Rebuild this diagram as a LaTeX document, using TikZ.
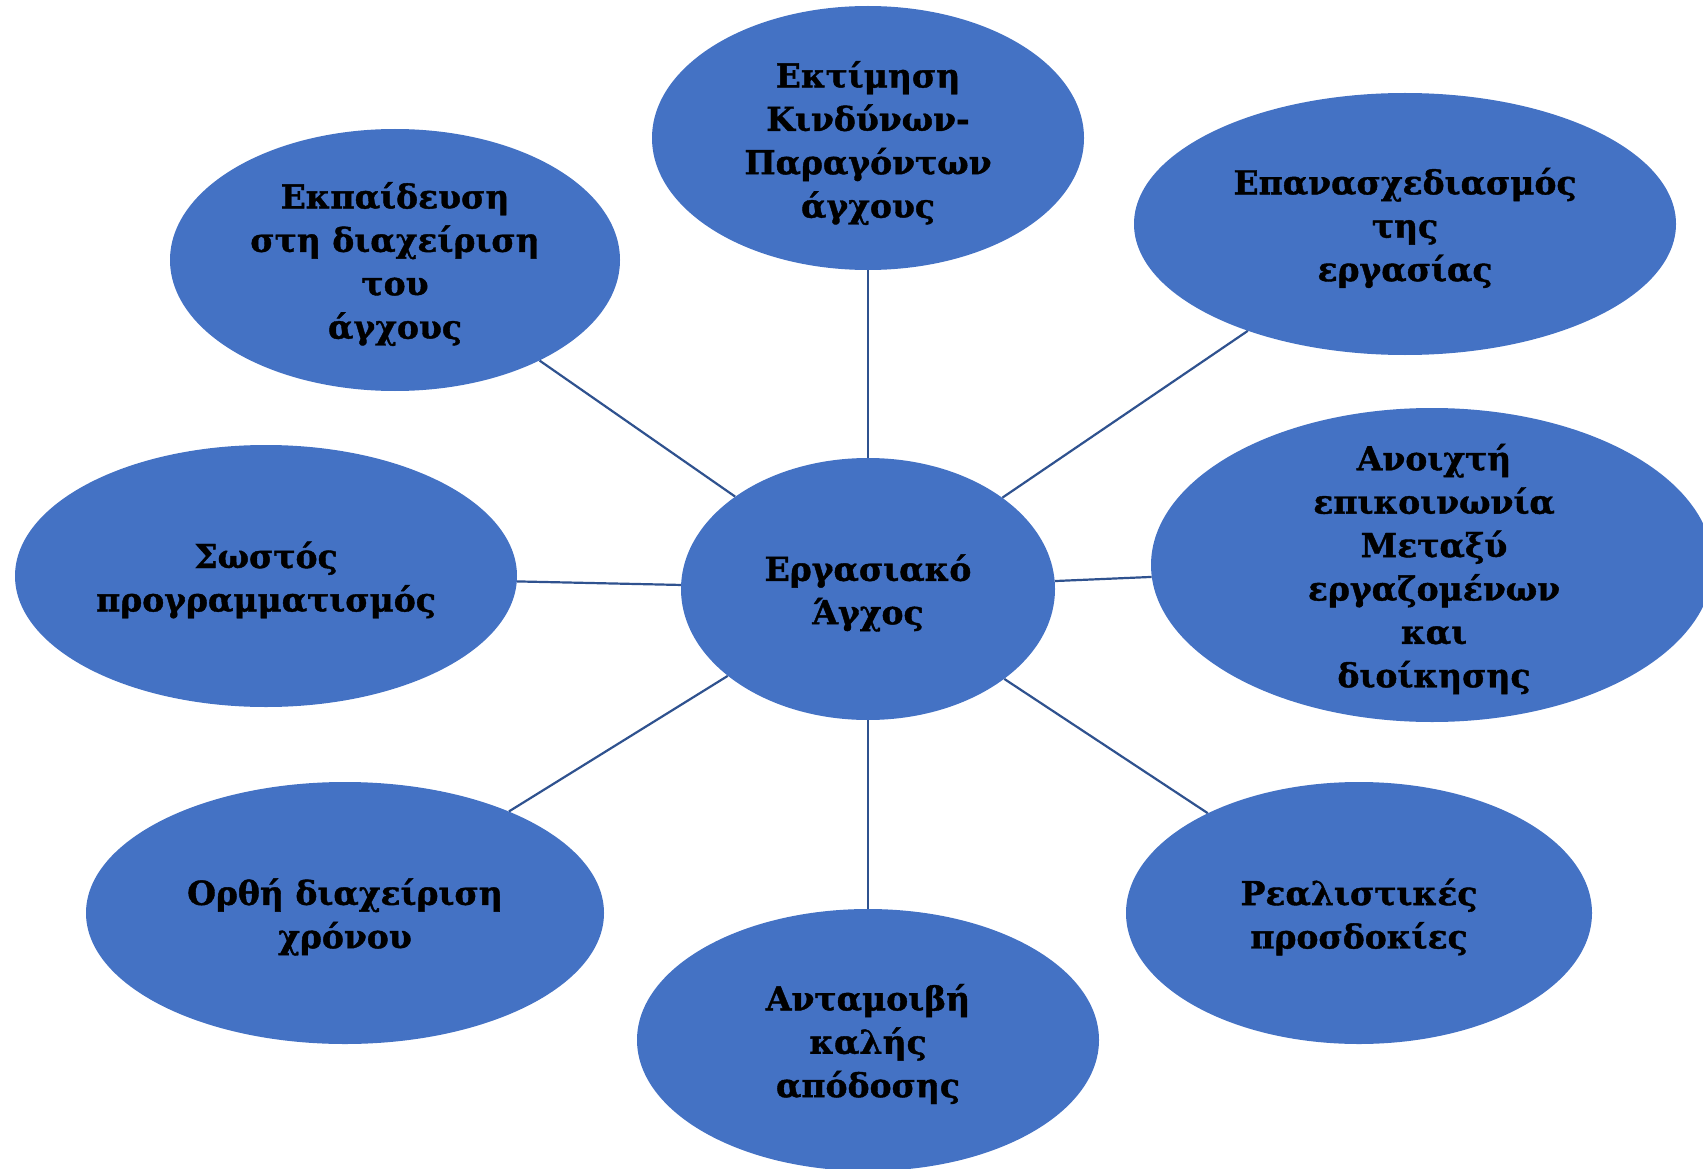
\documentclass[tikz,border=0pt]{standalone}
\usepackage{fontspec}
\setmainfont[BoldFeatures={FakeBold=1.2}]{DejaVu Serif}
\usetikzlibrary{shapes.geometric}
\definecolor{fillblue}{HTML}{4472C4}
\definecolor{lineblue}{HTML}{2F528F}
\tikzset{
  bubble/.style={ellipse, fill=fillblue, draw=none, inner sep=0pt},
  btext/.style={align=center, font=\fontsize{33}{43.4}\selectfont\bfseries, text=black, inner sep=0pt},
  link/.style={draw=lineblue, line width=2.2pt}
}
\begin{document}
\begin{tikzpicture}[x=1pt,y=-1pt]
\useasboundingbox (0,0) rectangle (1703,1169);
\clip (0,0) rectangle (1703,1169);
\node[bubble, minimum width=374pt, minimum height=262pt] (c) at (868,589) {};
\node[bubble, minimum width=432pt, minimum height=264pt] (t) at (868,138) {};
\node[bubble, minimum width=450pt, minimum height=262pt] (tl) at (395,260) {};
\node[bubble, minimum width=542pt, minimum height=262pt] (tr) at (1405,224) {};
\node[bubble, minimum width=562pt, minimum height=314pt] (r) at (1432,565) {};
\node[bubble, minimum width=502pt, minimum height=262pt] (l) at (266,576) {};
\node[bubble, minimum width=518pt, minimum height=262pt] (bl) at (345,913) {};
\node[bubble, minimum width=462pt, minimum height=262pt] (b) at (868,1040) {};
\node[bubble, minimum width=466pt, minimum height=262pt] (br) at (1359,913) {};

\node[btext] (ct) at ([yshift=-4pt]c.center) {Εργασιακό\\Άγχος};
\node[btext] (tt) at ([yshift=-5pt]t.center) {Εκτίμηση\\Κινδύνων-\\Παραγόντων\\άγχους};
\node[btext] (tlt) at ([yshift=-4pt]tl.center) {Εκπαίδευση\\στη διαχείριση\\του\\άγχους};
\node[btext] (trt) at ([yshift=-4pt]tr.center) {Επανασχεδιασμός\\της\\εργασίας};
\node[btext] (rt) at ([xshift=2pt,yshift=-4pt]r.center) {Ανοιχτή\\επικοινωνία\\Μεταξύ\\εργαζομένων\\και\\διοίκησης};
\node[btext] (lt) at ([yshift=-4pt]l.center) {Σωστός\\προγραμματισμός};
\node[btext] (blt) at ([yshift=-4pt]bl.center) {Ορθή διαχείριση\\χρόνου};
\node[btext] (bt) at ([yshift=-4pt]b.center) {Ανταμοιβή\\καλής\\απόδοσης};
\node[btext] (brt) at ([yshift=-4pt]br.center) {Ρεαλιστικές\\προσδοκίες};

\foreach \n in {t,tl,tr,r,l,bl,b,br}{
  \draw[link] (c) -- (\n);
}
\end{tikzpicture}
\end{document}
